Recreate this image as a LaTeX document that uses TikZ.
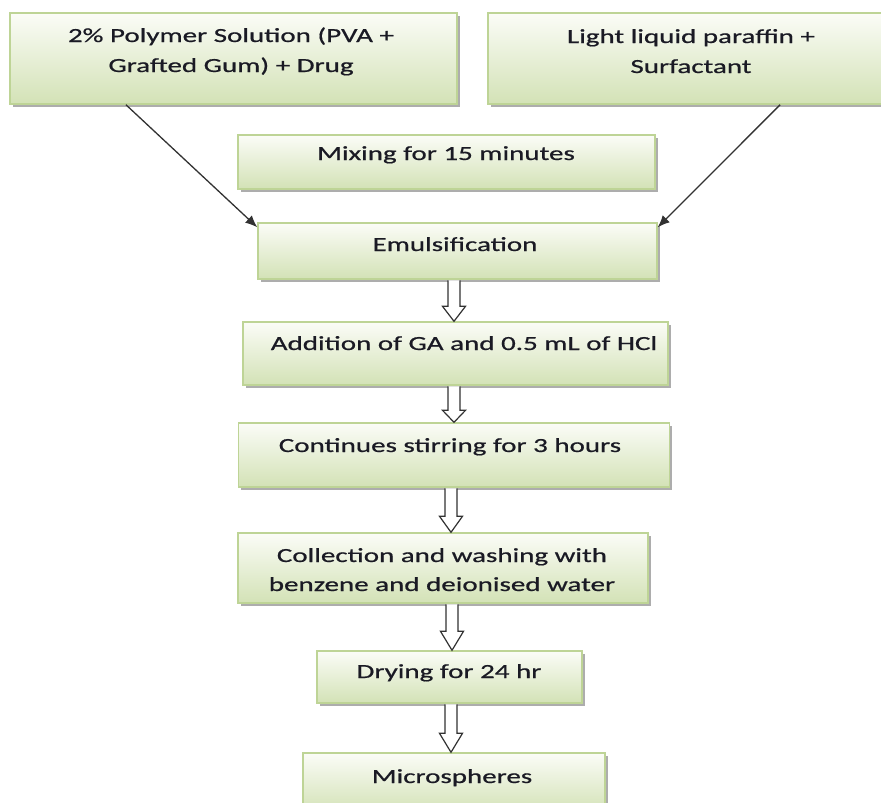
\documentclass[tikz,border=0pt]{standalone}
\usepackage{fontspec}
\setmainfont{Carlito}[FakeStretch=1.45,FakeBold=0.7]
\usetikzlibrary{calc,shadows,arrows.meta}

\definecolor{boxedge}{RGB}{190,212,150}
\definecolor{boxtop}{RGB}{251,252,247}
\definecolor{boxbottom}{RGB}{211,226,182}
\definecolor{inktext}{RGB}{26,26,36}
\definecolor{arrowline}{RGB}{50,50,50}

\tikzset{
  stepbox/.style={rectangle, draw=boxedge, line width=1.4pt, inner sep=0pt,
    top color=boxtop, bottom color=boxbottom,
    drop shadow={shadow xshift=2.5pt, shadow yshift=-2.5pt, fill=black, opacity=0.32}},
  steptext/.style={anchor=base, inner sep=0pt, text=inktext,
    font=\fontsize{20pt}{30pt}\selectfont},
  feed/.style={draw=arrowline, line width=1.3pt,
    -{Latex[length=12pt,width=10pt]}},
  hollow/.style={draw=arrowline, line width=1.2pt, fill=white, line join=miter}
}

% hollow block arrow: #1 = x position, #2 = upper box, #3 = lower box, #4 = head length
\newcommand\blockarrow[4]{%
  \draw[hollow] let \p1=(#2.south), \p2=(#3.north) in
    (#1-6pt,\y1-0.7pt) -- (#1-6pt,\y2+#4) -- (#1-11.5pt,\y2+#4) -- (#1,\y2)
    -- (#1+11.5pt,\y2+#4) -- (#1+6pt,\y2+#4) -- (#1+6pt,\y1-0.7pt);}

\begin{document}
\begin{tikzpicture}[x=1pt,y=-1pt]
  \useasboundingbox (0,0) rectangle (881,803);
  \clip (0,0) rectangle (881,803);

  % boxes
  \node[stepbox, minimum width=447pt, minimum height=91pt] (top1) at (233.5,58.5) {};
  \node[stepbox, minimum width=402pt, minimum height=91pt] (top2) at (689,58.5) {};
  \node[stepbox, minimum width=417pt, minimum height=54pt] (mix) at (446.5,162) {};
  \node[stepbox, minimum width=399pt, minimum height=56pt] (emul) at (457.5,251) {};
  \node[stepbox, minimum width=425pt, minimum height=63pt] (add) at (455.5,353.5) {};
  \node[stepbox, minimum width=431pt, minimum height=64pt] (cont) at (454,455) {};
  \node[stepbox, minimum width=410pt, minimum height=70pt] (coll) at (443,568) {};
  \node[stepbox, minimum width=265pt, minimum height=52pt] (dry) at (449.5,677) {};
  \node[stepbox, minimum width=302pt, minimum height=60pt] (micro) at (454,783) {};

  % labels
  \node[steptext] (l1a) at (231,42) {2\% Polymer Solution (PVA +};
  \node[steptext] (l1b) at (231,72) {Grafted Gum) + Drug};
  \node[steptext] (l2a) at (691,43) {Light liquid paraffin +};
  \node[steptext] (l2b) at (691,73) {Surfactant};
  \node[steptext] (lmix) at (446,160) {Mixing for 15 minutes};
  \node[steptext] (lemul) at (455,251) {Emulsification};
  \node[steptext] (ladd) at (464,350) {Addition of GA and 0.5 mL of HCl};
  \node[steptext] (lcont) at (450,452) {Continues stirring for 3 hours};
  \node[steptext] (lcoll1) at (442,562) {Collection and washing with};
  \node[steptext] (lcoll2) at (442,591) {benzene and deionised water};
  \node[steptext] (ldry) at (449,678) {Drying for 24 hr};
  \node[steptext] (lmicro) at (452,783) {Microspheres};

  % feed lines into the emulsification step
  \draw[feed] ($(top1.south west)!0.26!(top1.south east)$) -- ($(emul.north west)+(0,5)$);
  \draw[feed] ($(top2.south west)!0.726!(top2.south east)$) -- ($(emul.north east)+(0,5)$);

  % hollow arrows down the process
  \blockarrow{454pt}{emul}{add}{15pt}
  \blockarrow{454pt}{add}{cont}{12pt}
  \blockarrow{451pt}{cont}{coll}{16pt}
  \blockarrow{452pt}{coll}{dry}{19pt}
  \blockarrow{451pt}{dry}{micro}{19pt}
\end{tikzpicture}
\end{document}
